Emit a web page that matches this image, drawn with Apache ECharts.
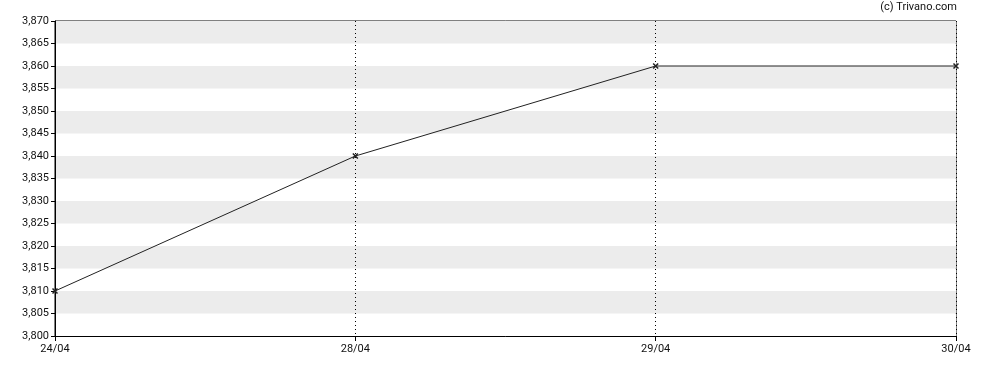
<!DOCTYPE html>
<html><head><meta charset="utf-8">
<script src="https://cdn.jsdelivr.net/npm/echarts@6/dist/echarts.min.js"></script>
<style>html,body{margin:0;padding:0;background:#fff}#c{width:988px;height:370px}</style>
</head><body><div id="c"></div>
<script>
var categories = ['24/04', '28/04', '29/04', '30/04'];
var values = [3.810, 3.840, 3.860, 3.860];
var yMin = 3.800, yMax = 3.870, yStep = 0.005;

var chart = echarts.init(document.getElementById('c'), null, {renderer: 'canvas'});
var font = 'Roboto, "Liberation Sans", Arial, sans-serif';
chart.setOption({
  animation: false,
  backgroundColor: '#ffffff',
  graphic: [{type: 'text', right: 31, top: 2, style: {text: '(c) Trivano.com', font: '11px ' + font, fill: '#111'}}],
  grid: {left: 55, right: 32, top: 21, bottom: 34, show: true, borderColor: '#000', borderWidth: 1, backgroundColor: 'transparent'},
  xAxis: {
    type: 'category', data: categories, boundaryGap: false,
    axisLine: {lineStyle: {color: '#000', width: 1}},
    axisTick: {show: true, length: 5, lineStyle: {color: '#000'}},
    axisLabel: {color: '#111', fontSize: 11, fontFamily: font, margin: 8},
    splitLine: {show: true, lineStyle: {color: '#000', type: [1, 3], width: 1}}
  },
  yAxis: {
    type: 'value', min: yMin, max: yMax, interval: yStep,
    axisLine: {show: true, lineStyle: {color: '#000'}},
    axisTick: {show: true, length: 4, lineStyle: {color: '#000'}},
    axisLabel: {color: '#111', fontSize: 11, fontFamily: font, margin: 6,
      formatter: function (v) { return v.toFixed(3).replace('.', ','); }},
    splitLine: {show: false},
    splitArea: {show: true, areaStyle: {color: ['#ffffff', '#ececec']}}
  },
  series: [{
    type: 'line', data: values,
    symbol: 'path://M0,0L10,10M10,0L0,10M0,0L10,10', symbolSize: 5,
    itemStyle: {color: '#222', borderColor: '#222', borderWidth: 1.5},
    lineStyle: {color: '#222', width: 1}
  }]
});
</script></body></html>
